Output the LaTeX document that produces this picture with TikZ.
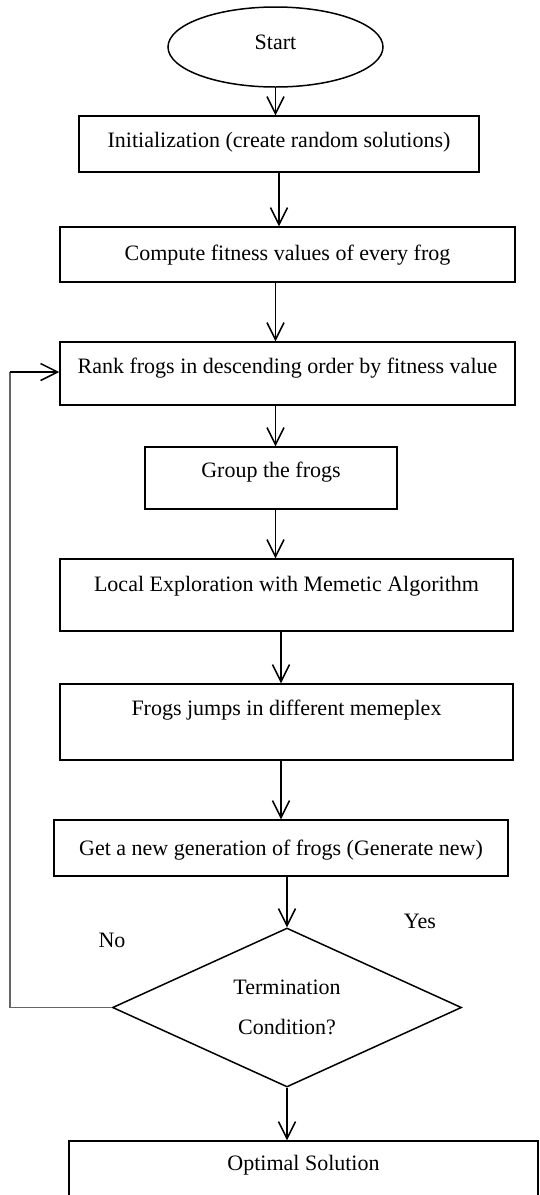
\documentclass[tikz,border=0pt]{standalone}
\usepackage{fontspec}
\setmainfont{Liberation Serif}
\usetikzlibrary{shapes.geometric,arrows.meta}
\tikzstyle{decision} = [diamond, draw, line width=1.5pt, aspect=2.2,
    inner sep=0pt, minimum width=349pt, minimum height=159pt,
    align=center, font=\fontsize{22}{40}\selectfont]
\tikzstyle{block} = [rectangle, draw, line width=1.5pt, inner sep=0pt, text centered]
\tikzstyle{startstop} = [ellipse, draw, line width=1.5pt, inner sep=0pt,
    minimum width=215pt, minimum height=80pt]
\tikzstyle{line} = [draw, line width=1.5pt, -{Straight Barb[length=17pt,width=17pt]}]
\tikzstyle{backline} = [draw, line width=1.1pt, black!60]

\begin{document}
\begin{tikzpicture}[x=1pt,y=-1pt,font=\fontsize{22}{26}\selectfont]
    \useasboundingbox (0,0) rectangle (539,1195);
    \clip (0,0) rectangle (539,1195);
    % Place nodes
    \node [startstop, text height=16pt, text depth=12pt] (start) at (275.5,47) {Start};
    \node [block, node distance=97pt, below of=start, xshift=3.5pt, minimum width=400pt,
        text height=31pt, text depth=25pt] (init) {Initialization (create random solutions)};
    \node [block, node distance=110.5pt, below of=init, xshift=8.5pt, minimum width=455pt,
        text height=33pt, text depth=22pt] (compute) {Compute fitness values of every frog};
    \node [block, node distance=119pt, below of=compute, minimum width=455pt,
        text height=31pt, text depth=32pt] (rank) {Rank frogs in descending order by fitness value};
    \node [block, node distance=104.5pt, below of=rank, xshift=-16.5pt, minimum width=252pt,
        text height=30pt, text depth=32pt] (group) {Group the frogs};
    \node [block, node distance=117pt, below of=group, xshift=15.5pt, minimum width=453pt,
        text height=32pt, text depth=40pt] (local) {Local Exploration with Memetic Algorithm};
    \node [block, node distance=127pt, below of=local, minimum width=453pt,
        text height=31pt, text depth=45pt] (frogs) {Frogs jumps in different memeplex};
    \node [block, node distance=126pt, below of=frogs, xshift=-5.5pt, minimum width=454pt,
        text height=35pt, text depth=21pt] (get) {Get a new generation of frogs (Generate new)};
    \node [decision, node distance=159.5pt, below of=get, xshift=6pt] (decide) {Termination\\Condition?};
    \node [block, node distance=168.5pt, below of=decide, xshift=16.5pt, minimum width=469pt,
        text height=29pt, text depth=41pt] (optimal) {Optimal Solution};
    \node (yes) at (420,921) {Yes};
    \node (no) at (112,940) {No};
    \coordinate (back) at (10,372);
    % Draw edges
    \path [line] (start) -- (start |- init.north);
    \path [line] (init) -- (init |- compute.north);
    \path [line] (start |- compute.south) -- (start |- rank.north);
    \path [line] (start |- rank.south) -- (start |- group.north);
    \path [line] (start |- group.south) -- (start |- local.north);
    \path [line] (get |- local.south) -- (get |- frogs.north);
    \path [line] (get |- frogs.south) -- (get);
    \path [line] (decide |- get.south) -- (decide);
    \path [line] (decide) -- (decide |- optimal.north);
    \path [backline] (decide.west) -| (back);
    \path [line] (back) -- (back -| rank.west);
\end{tikzpicture}
\end{document}
